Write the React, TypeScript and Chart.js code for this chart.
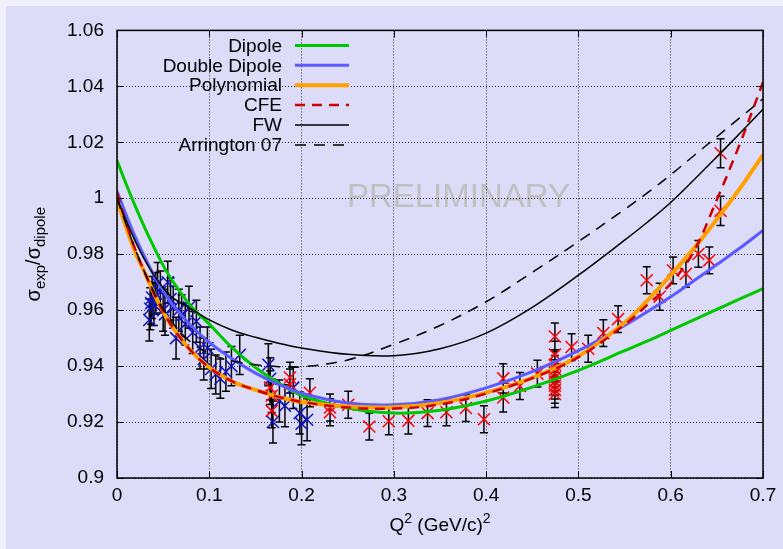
import React, { useEffect, useRef } from 'react';
import { Chart, registerables } from 'chart.js';

Chart.register(...registerables);

// ---- model curves ----
const CURVE_Q = [0, 0.01, 0.02, 0.03, 0.04, 0.05, 0.06, 0.08, 0.1, 0.125, 0.15, 0.175, 0.2, 0.25, 0.3, 0.35, 0.4, 0.45, 0.5, 0.55, 0.575, 0.6, 0.625, 0.65, 0.675, 0.7];
const DIPOLE = [1.0135, 1.005, 0.997, 0.9895, 0.9825, 0.976, 0.9705, 0.9615, 0.955, 0.9465, 0.9395, 0.934, 0.9295, 0.925, 0.9232, 0.9242, 0.9275, 0.9325, 0.9385, 0.9455, 0.949, 0.9528, 0.9565, 0.9603, 0.964, 0.9677];
const DOUBLE_DIPOLE = [1.0025, 0.994, 0.986, 0.979, 0.9725, 0.967, 0.962, 0.9545, 0.9485, 0.9425, 0.9375, 0.9335, 0.9303, 0.9268, 0.9262, 0.928, 0.9322, 0.938, 0.9455, 0.9545, 0.9595, 0.9648, 0.9705, 0.9763, 0.9822, 0.9885];
const POLYNOMIAL = [0.9995, 0.9895, 0.9805, 0.9735, 0.966, 0.9595, 0.954, 0.9455, 0.9395, 0.9345, 0.9315, 0.929, 0.9272, 0.9256, 0.9253, 0.9268, 0.9305, 0.9358, 0.9435, 0.9555, 0.9635, 0.9725, 0.982, 0.9925, 1.0035, 1.0155];
const CFE = [1.002, 0.991, 0.9815, 0.9735, 0.966, 0.9595, 0.954, 0.9455, 0.9395, 0.9345, 0.9315, 0.929, 0.9272, 0.9252, 0.9248, 0.9263, 0.9302, 0.9357, 0.9432, 0.9548, 0.962, 0.9695, 0.981, 0.9995, 1.0195, 1.0415];
const FW = [1.0, 0.992, 0.9845, 0.978, 0.9725, 0.968, 0.9645, 0.9605, 0.9565, 0.9528, 0.9503, 0.9482, 0.9465, 0.9442, 0.9437, 0.9462, 0.9518, 0.961, 0.9725, 0.985, 0.9915, 0.9985, 1.0065, 1.0148, 1.0232, 1.0318];
const ARRINGTON = [1.0, 0.9905, 0.9815, 0.9735, 0.9665, 0.9605, 0.9555, 0.9485, 0.9445, 0.9418, 0.9405, 0.9398, 0.9397, 0.9422, 0.9478, 0.9545, 0.963, 0.9735, 0.9845, 0.996, 1.002, 1.0084, 1.0152, 1.022, 1.0288, 1.0355];

// ---- data set 1 (blue crosses) ----
const SET1_Q = [0.035, 0.036, 0.037, 0.038, 0.040, 0.042, 0.044, 0.047, 0.050, 0.052, 0.055, 0.058, 0.061, 0.064, 0.067, 0.070, 0.074, 0.078, 0.082, 0.086, 0.090, 0.094, 0.098, 0.102, 0.107, 0.112, 0.118, 0.124, 0.133, 0.164, 0.166, 0.169, 0.176, 0.182, 0.191, 0.198, 0.200, 0.206];
const SET1_R = [0.9565, 0.9605, 0.9625, 0.9645, 0.962, 0.966, 0.9695, 0.9665, 0.96, 0.9585, 0.97, 0.964, 0.961, 0.95, 0.96, 0.958, 0.955, 0.961, 0.952, 0.956, 0.9465, 0.9425, 0.9465, 0.939, 0.937, 0.9355, 0.938, 0.94, 0.944, 0.9405, 0.9355, 0.92, 0.9275, 0.9258, 0.9323, 0.9232, 0.9194, 0.9208];
const SET1_ERR = [0.0075, 0.0075, 0.0075, 0.0075, 0.0075, 0.0075, 0.0075, 0.0075, 0.0075, 0.0075, 0.0075, 0.0075, 0.0075, 0.0075, 0.0075, 0.0075, 0.0075, 0.0075, 0.0075, 0.0075, 0.0075, 0.0075, 0.0075, 0.007, 0.007, 0.007, 0.007, 0.007, 0.007, 0.0075, 0.0075, 0.0075, 0.0075, 0.0075, 0.0075, 0.0075, 0.0075, 0.0075];

// ---- data set 2 (red crosses) ----
const SET2_Q = [0.1658, 0.1676, 0.1676, 0.1874, 0.1874, 0.209, 0.2308, 0.2308, 0.2506, 0.2734, 0.2945, 0.3157, 0.3365, 0.357, 0.378, 0.3976, 0.4185, 0.4185, 0.4366, 0.4555, 0.4745, 0.4745, 0.4745, 0.4745, 0.4745, 0.4745, 0.4745, 0.4745, 0.4745, 0.4745, 0.4926, 0.5106, 0.527, 0.543, 0.574, 0.588, 0.6026, 0.6165, 0.63, 0.6418, 0.654, 0.654];
const SET2_R = [0.9323, 0.9294, 0.924, 0.9359, 0.9335, 0.9305, 0.9252, 0.9235, 0.9262, 0.9184, 0.9203, 0.9205, 0.9232, 0.9235, 0.925, 0.921, 0.9288, 0.9356, 0.9329, 0.9373, 0.9506, 0.9441, 0.9405, 0.939, 0.9375, 0.936, 0.9345, 0.933, 0.9315, 0.93, 0.9468, 0.9462, 0.9518, 0.9568, 0.9707, 0.9648, 0.9742, 0.973, 0.9801, 0.9778, 1.0161, 0.9955];
const SET2_ERR = [0.006, 0.006, 0.006, 0.0055, 0.0055, 0.005, 0.0048, 0.0048, 0.0048, 0.0048, 0.0048, 0.0048, 0.0048, 0.0048, 0.0048, 0.0048, 0.0052, 0.0052, 0.0048, 0.0048, 0.0048, 0.0048, 0.0048, 0.0048, 0.0048, 0.0048, 0.0048, 0.0048, 0.0048, 0.0048, 0.0048, 0.0048, 0.0048, 0.0048, 0.0048, 0.0048, 0.0048, 0.0048, 0.0048, 0.0048, 0.0052, 0.0052];

const X_MIN = 0, X_MAX = 0.7, X_STEP = 0.1;
const Y_MIN = 0.9, Y_MAX = 1.06, Y_STEP = 0.02;

const FONT = '"Liberation Sans", Arial, Helvetica, sans-serif';
const BG = '#dcdcf8';
const PAGE = '#f0f0fb';

const LEGEND = [
  { label: 'Dipole', color: '#00c800', width: 3, dash: [] as number[] },
  { label: 'Double Dipole', color: '#5a5aff', width: 3, dash: [] as number[] },
  { label: 'Polynomial', color: '#ffa000', width: 4, dash: [] as number[] },
  { label: 'CFE', color: '#d00000', width: 2.5, dash: [10, 7] },
  { label: 'FW', color: '#000000', width: 1.5, dash: [] as number[] },
  { label: 'Arrington 07', color: '#000000', width: 1.5, dash: [11, 8] },
];
const CURVES: Record<string, number[]> = {
  'Dipole': DIPOLE,
  'Double Dipole': DOUBLE_DIPOLE,
  'Polynomial': POLYNOMIAL,
  'CFE': CFE,
  'FW': FW,
  'Arrington 07': ARRINGTON,
};

type Seg = { t: string; size: number; dy: number };
function drawRich(ctx: CanvasRenderingContext2D, segs: Seg[], cx: number, baseY: number) {
  let total = 0;
  for (const s of segs) { ctx.font = `${s.size}px ${FONT}`; total += ctx.measureText(s.t).width; }
  let x = cx - total / 2;
  ctx.textAlign = 'left';
  ctx.textBaseline = 'alphabetic';
  for (const s of segs) {
    ctx.font = `${s.size}px ${FONT}`;
    ctx.fillText(s.t, x, baseY + s.dy);
    x += ctx.measureText(s.t).width;
  }
}

const decoPlugin = {
  id: 'deco',
  beforeDraw(chart: any) {
    const { ctx, width, height } = chart;
    const xs = chart.scales.x, ys = chart.scales.y;
    ctx.save();
    ctx.fillStyle = BG;
    ctx.fillRect(0, 0, width, height);
    ctx.fillStyle = '#c0c0c0';
    ctx.font = `33px ${FONT}`;
    ctx.textAlign = 'center';
    ctx.textBaseline = 'middle';
    ctx.fillText('PRELIMINARY', xs.getPixelForValue(0.37), ys.getPixelForValue(1.0));
    ctx.restore();
  },
  afterDraw(chart: any) {
    const { ctx, chartArea } = chart;
    const { left, right, top, bottom } = chartArea;
    const xs = chart.scales.x, ys = chart.scales.y;
    ctx.save();
    // inward ticks
    ctx.strokeStyle = '#000';
    ctx.lineWidth = 1;
    ctx.beginPath();
    for (const t of xs.ticks) {
      const px = Math.round(xs.getPixelForValue(t.value)) + 0.5;
      ctx.moveTo(px, bottom); ctx.lineTo(px, bottom - 7);
      ctx.moveTo(px, top); ctx.lineTo(px, top + 7);
    }
    for (const t of ys.ticks) {
      const py = Math.round(ys.getPixelForValue(t.value)) + 0.5;
      ctx.moveTo(left, py); ctx.lineTo(left + 7, py);
      ctx.moveTo(right, py); ctx.lineTo(right - 7, py);
    }
    ctx.stroke();
    // border
    ctx.lineWidth = 1.5;
    ctx.strokeRect(left, top, right - left, bottom - top);

    // legend
    ctx.fillStyle = '#000';
    ctx.font = `19px ${FONT}`;
    ctx.textAlign = 'right';
    ctx.textBaseline = 'middle';
    LEGEND.forEach((item, i) => {
      const y = top + 15 + i * 19.9;
      ctx.fillText(item.label, left + 165, y + 1);
      ctx.save();
      ctx.strokeStyle = item.color;
      ctx.lineWidth = item.width;
      ctx.setLineDash(item.dash);
      ctx.beginPath();
      ctx.moveTo(left + 178, y);
      ctx.lineTo(left + 232, y);
      ctx.stroke();
      ctx.restore();
    });

    // x axis title
    ctx.fillStyle = '#000';
    drawRich(ctx, [
      { t: 'Q', size: 19, dy: 0 },
      { t: '2', size: 14, dy: -8 },
      { t: ' (GeV/c)', size: 19, dy: 0 },
      { t: '2', size: 14, dy: -8 },
    ], (left + right) / 2, 525);

    // y axis title (rotated)
    ctx.save();
    ctx.translate(34, (top + bottom) / 2);
    ctx.rotate(-Math.PI / 2);
    drawRich(ctx, [
      { t: 'σ', size: 20, dy: 0 },
      { t: 'exp', size: 15, dy: 5 },
      { t: '/σ', size: 20, dy: 0 },
      { t: 'dipole', size: 15, dy: 5 },
    ], 0, 0);
    ctx.restore();
    ctx.restore();
  },
};

export default function App() {
  const ref = useRef<HTMLCanvasElement>(null);
  useEffect(() => {
    document.body.style.margin = '0';
    document.body.style.background = PAGE;
    const canvas = ref.current!;
    const curve = (vals: number[]) => CURVE_Q.map((q, i) => ({ x: q, y: vals[i] }));
    const pts = (qs: number[], rs: number[]) => qs.map((q, i) => ({ x: q, y: rs[i] }));
    const errData: { x: number; y: number | null }[] = [];
    const addErr = (qs: number[], rs: number[], es: number[]) => {
      qs.forEach((q, i) => {
        errData.push({ x: q, y: rs[i] - es[i] });
        errData.push({ x: q, y: rs[i] + es[i] });
        errData.push({ x: q, y: null });
      });
    };
    addErr(SET1_Q, SET1_R, SET1_ERR);
    addErr(SET2_Q, SET2_R, SET2_ERR);

    const curveDs = [...LEGEND].reverse().map((it) => ({
      label: it.label,
      data: curve(CURVES[it.label]),
      showLine: true,
      borderColor: it.color,
      borderWidth: it.width,
      borderDash: it.dash,
      pointRadius: 0,
      fill: false,
      tension: 0.35,
    }));

    const chart = new Chart(canvas, {
      type: 'scatter',
      data: {
        datasets: [
          ...curveDs,
          {
            label: 'data2',
            data: pts(SET2_Q, SET2_R),
            showLine: false,
            pointStyle: 'crossRot',
            pointRadius: 8.5,
            pointBorderColor: '#ff0000',
            pointBorderWidth: 1.5,
            borderColor: '#ff0000',
          } as any,
          {
            label: 'data1',
            data: pts(SET1_Q, SET1_R),
            showLine: false,
            pointStyle: 'crossRot',
            pointRadius: 8.5,
            pointBorderColor: '#1010c0',
            pointBorderWidth: 1.5,
            borderColor: '#1010c0',
          } as any,
          {
            label: 'errors',
            data: errData,
            showLine: true,
            spanGaps: false,
            borderColor: '#000',
            borderWidth: 1.5,
            pointStyle: 'line',
            pointRadius: 4,
            pointBorderColor: '#000',
            pointBorderWidth: 1.5,
          } as any,
        ],
      },
      options: {
        responsive: false,
        animation: false,
        events: [],
        devicePixelRatio: 1,
        layout: { padding: { top: 20, right: 20, left: 0, bottom: 0 } },
        plugins: { legend: { display: false }, tooltip: { enabled: false } },
        scales: {
          x: {
            type: 'linear',
            min: X_MIN,
            max: X_MAX,
            afterFit: (s: any) => { s.height = 71; },
            ticks: {
              stepSize: X_STEP,
              color: '#000',
              padding: 6,
              font: { family: FONT, size: 19 },
              callback: (v: any) => (Math.abs(v) < 1e-9 ? '0' : Number(v).toFixed(1)),
            },
            grid: { color: 'rgba(0,0,0,0.8)', lineWidth: 1, drawTicks: false },
            border: { display: false, dash: [1, 2] },
          },
          y: {
            type: 'linear',
            min: Y_MIN,
            max: Y_MAX,
            afterFit: (s: any) => { s.width = 111; },
            ticks: {
              stepSize: Y_STEP,
              color: '#000',
              padding: 13,
              font: { family: FONT, size: 19 },
              callback: (v: any) => String(parseFloat(Number(v).toFixed(2))),
            },
            grid: { color: 'rgba(0,0,0,0.8)', lineWidth: 1, drawTicks: false },
            border: { display: false, dash: [1, 2] },
          },
        },
      },
      plugins: [decoPlugin],
    });
    return () => chart.destroy();
  }, []);
  return (
    <div style={{ padding: '6px 0 0 6px' }}>
      <canvas ref={ref} width={777} height={543} style={{ display: 'block', width: 777, height: 543 }} />
    </div>
  );
}
